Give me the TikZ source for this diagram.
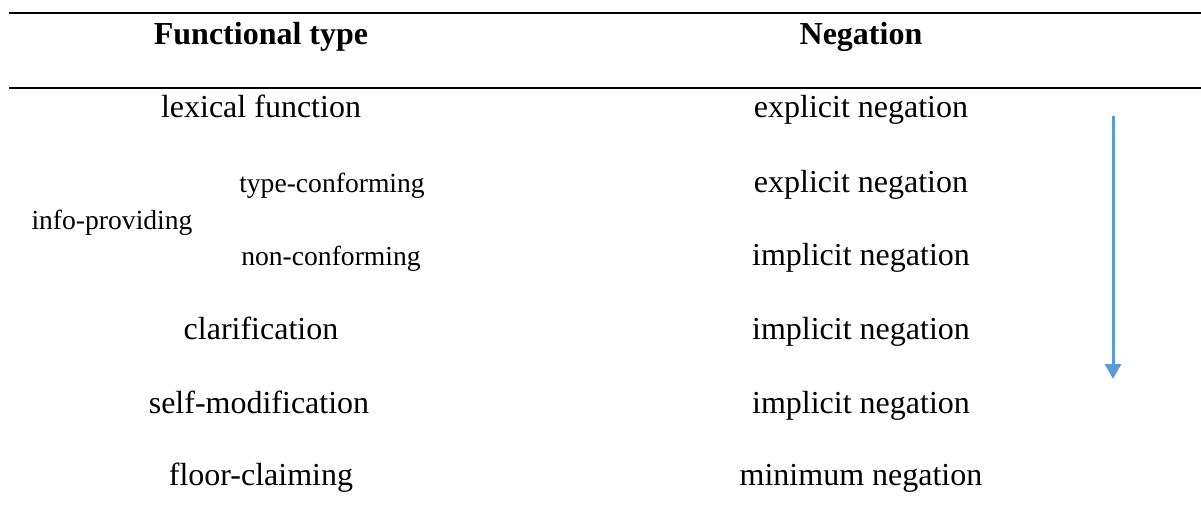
\documentclass[tikz,border=0pt]{standalone}
\usepackage{fontspec}
\setmainfont{Liberation Serif}
\usetikzlibrary{arrows.meta, positioning, calc}
\definecolor{arrowblue}{RGB}{91,155,213}

\begin{document}
\begin{tikzpicture}[x=0.5pt,y=-0.5pt,
    cell/.style={anchor=base,inner sep=0pt,font=\fontsize{16}{19}\selectfont},
    subcell/.style={cell,font=\fontsize{13.8}{16}\selectfont},
    head/.style={cell,font=\fontsize{16}{19}\selectfont\bfseries},
    rule/.style={line width=1pt},
    order/.style={line width=1.5pt,color=arrowblue,-{Triangle[width=8pt,length=7.5pt]}}]
\useasboundingbox (0,0) rectangle (1201,525);
% rules
\coordinate (r1l) at (9,12.5);
\coordinate (r1r) at (1201,12.5);
\coordinate (r2l) at (9,88);
\coordinate (r2r) at (1201,88);
\draw[rule] (r1l) -- (r1r);
\draw[rule] (r2l) -- (r2r);
% header
\node[head] (hfun) at (261,44) {Functional type};
\node[head] (hneg) at (861,44) {Negation};
% functional types
\node[cell] (lex) at (261,117) {lexical function};
\node[subcell] (tc) at (332,192) {type-conforming};
\node[subcell] (info) at (112,229) {info-providing};
\node[subcell] (nc) at (331,265) {non-conforming};
\node[cell] (clar) at (261,339) {clarification};
\node[cell] (self) at (259,413) {self-modification};
\node[cell] (floor) at (261,485) {floor-claiming};
% negation
\node[cell] (nlex) at (861,117) {explicit negation};
\node[cell] (ntc) at (861,192) {explicit negation};
\node[cell] (nnc) at (861,265) {implicit negation};
\node[cell] (nclar) at (861,339) {implicit negation};
\node[cell] (nself) at (861,413) {implicit negation};
\node[cell] (nfloor) at (861,485) {minimum negation};
% ordering arrow
\coordinate (atop) at (1113,116);
\coordinate (abot) at (1113,379);
\draw[order] (atop) -- (abot);
\end{tikzpicture}
\end{document}
